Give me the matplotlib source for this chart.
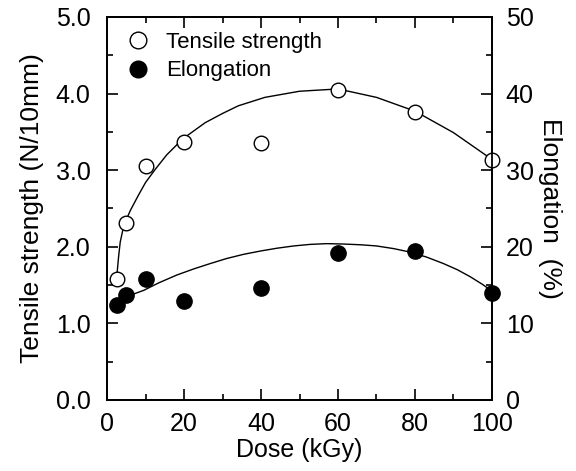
import numpy as np
import matplotlib
matplotlib.use("Agg")
import matplotlib.pyplot as plt
from matplotlib.ticker import MultipleLocator, FormatStrFormatter
from matplotlib.lines import Line2D

plt.rcParams["font.family"] = ["Liberation Sans", "DejaVu Sans"]

# ── data ───────────────────────────────────────────────────────────────────
dose        = [2.5, 5, 10, 20, 40, 60, 80, 100]
tensile     = [1.58, 2.31, 3.05, 3.37, 3.36, 4.05, 3.76, 3.13]
elongation  = [12.4, 13.7, 15.8, 12.9, 14.6, 19.2, 19.4, 14.0]

# fitted curves (sampled along the drawn lines)
ts_fit_dose = [2.5, 3.0, 3.4, 4.0, 4.7, 6.0, 8.1, 10, 12.5, 15.5, 19.7, 25.5,
               30, 34.1, 41, 50, 60, 70, 80, 90, 100]
ts_fit_val  = [1.61, 1.88, 2.06, 2.20, 2.32, 2.47, 2.67, 2.84, 3.01, 3.20, 3.41,
               3.62, 3.74, 3.84, 3.95, 4.03, 4.06, 3.95, 3.77, 3.49, 3.14]
el_fit_dose = [5.1, 9.5, 13.5, 18.1, 22.5, 26.8, 31, 35.4, 40, 44.1, 48.5,
               52.7, 57, 61.4, 66, 70, 74.5, 78.7, 83, 87.4, 91, 94.3, 97.5, 100]
el_fit_val  = [13.5, 14.3, 15.3, 16.3, 17.1, 17.8, 18.45, 19.0, 19.45, 19.8,
               20.1, 20.3, 20.4, 20.35, 20.25, 20.1, 19.75, 19.3, 18.65, 17.8,
               17.0, 16.1, 15.1, 14.2]

# ── figure ────────────────────────────────────────────────────────────────
fig = plt.figure(figsize=(5.76, 4.71), dpi=100)
ax = fig.add_axes([0.186, 0.151, 0.668, 0.813])
ax2 = ax.twinx()

ax.set_xlim(0, 100)
ax.set_ylim(0, 5.0)
ax2.set_ylim(0, 50)

ax.plot(ts_fit_dose, ts_fit_val, color="black", lw=1.0, zorder=2)
ax2.plot(el_fit_dose, el_fit_val, color="black", lw=1.0, zorder=2)

ax.plot(dose, tensile, "o", ms=10.5, mfc="white", mec="black", mew=1.0,
        clip_on=False, zorder=5)
ax2.plot(dose, elongation, "o", ms=11, mfc="black", mec="black",
         clip_on=False, zorder=5)

# ticks
ax.xaxis.set_major_locator(MultipleLocator(20))
ax.xaxis.set_minor_locator(MultipleLocator(10))
ax.yaxis.set_major_locator(MultipleLocator(1.0))
ax.yaxis.set_minor_locator(MultipleLocator(0.5))
ax2.yaxis.set_major_locator(MultipleLocator(10))
ax2.yaxis.set_minor_locator(MultipleLocator(5))
ax.yaxis.set_major_formatter(FormatStrFormatter("%.1f"))

ax.tick_params(which="both", direction="in", top=True, right=False,
               labelsize=18, width=1.2)
ax.tick_params(axis="x", pad=9)
ax.tick_params(axis="y", pad=12)
ax.tick_params(which="major", length=8)
ax.tick_params(which="minor", length=4)
ax2.tick_params(which="both", direction="in", labelsize=18, width=1.2, pad=10)
ax2.tick_params(which="major", length=8)
ax2.tick_params(which="minor", length=4)

for a in (ax, ax2):
    for s in a.spines.values():
        s.set_linewidth(1.3)

ax.set_xlabel("Dose (kGy)", fontsize=18, labelpad=1)
ax.set_ylabel("Tensile strength (N/10mm)", fontsize=19, labelpad=8)
ax2.set_ylabel("Elongation  (%)", fontsize=19, rotation=270, labelpad=20)

handles = [
    Line2D([], [], ls="none", marker="o", ms=12, mfc="white", mec="black",
           mew=1.0, label="Tensile strength"),
    Line2D([], [], ls="none", marker="o", ms=12, mfc="black", mec="black",
           label="Elongation"),
]
ax.legend(handles=handles, loc="upper left", frameon=False, fontsize=16,
          handletextpad=0.25, borderaxespad=0.0, labelspacing=0.35,
          bbox_to_anchor=(0.0, 0.985))

fig.savefig("out.png", dpi=100, facecolor="white")
